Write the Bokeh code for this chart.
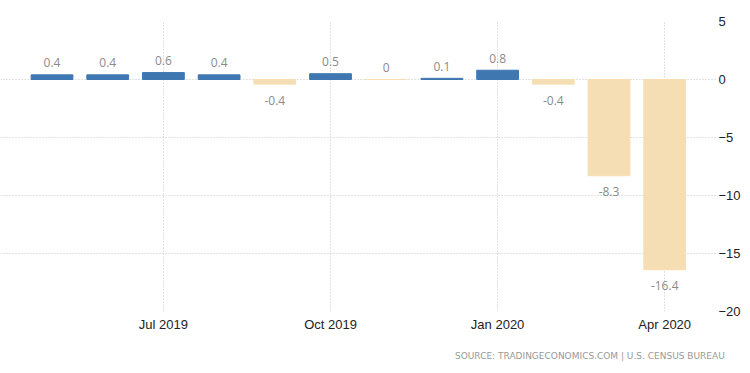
from bokeh.plotting import figure
from bokeh.models import ColumnDataSource, FixedTicker, LinearAxis, Title, Range1d
from bokeh.core.properties import value
from bokeh.embed import file_html
from bokeh.resources import INLINE

months = ["May 2019", "Jun 2019", "Jul 2019", "Aug 2019", "Sep 2019", "Oct 2019",
          "Nov 2019", "Dec 2019", "Jan 2020", "Feb 2020", "Mar 2020", "Apr 2020"]
values = [0.4, 0.4, 0.6, 0.4, -0.4, 0.5, 0, 0.1, 0.8, -0.4, -8.3, -16.4]
tick_months = ["Jul 2019", "Oct 2019", "Jan 2020", "Apr 2020"]
y_ticks = [5, 0, -5, -10, -15, -20]

BLUE = "#3f78b0"
WHEAT = "#f5deb3"

idx = list(range(len(months)))
colors = [BLUE if v > 0 else WHEAT for v in values]
labels = [("%g" % v) for v in values]
pos = [v >= 0 for v in values]

src_pos = ColumnDataSource(dict(x=[i for i, p in zip(idx, pos) if p],
                                y=[v for v, p in zip(values, pos) if p],
                                t=[l for l, p in zip(labels, pos) if p]))
src_neg = ColumnDataSource(dict(x=[i for i, p in zip(idx, pos) if not p],
                                y=[v for v, p in zip(values, pos) if not p],
                                t=[l for l, p in zip(labels, pos) if not p]))
src = ColumnDataSource(dict(x=idx, top=values, color=colors))

p = figure(frame_width=716, frame_height=290, output_backend="svg", toolbar_location=None,
           x_range=Range1d(-0.925, 11.93), y_range=Range1d(-20, 5),
           min_border_left=0, min_border_top=21, min_border_right=0, min_border_bottom=0,
           y_axis_location=None)
p.outline_line_color = None
p.background_fill_color = "white"
p.border_fill_color = "white"

p.vbar(x="x", top="top", bottom=0, width=0.75, color="color", source=src)

font = value("Open Sans")
p.text(x="x", y="y", text="t", source=src_pos, text_align="center", text_baseline="middle",
       y_offset=-12, text_color="#8a8a8a", text_font_size="12px", text_font=font)
p.text(x="x", y="y", text="t", source=src_neg, text_align="center", text_baseline="middle",
       y_offset=16, text_color="#8a8a8a", text_font_size="12px", text_font=font)

# x axis
xa = p.xaxis[0]
xa.ticker = FixedTicker(ticks=[months.index(m) for m in tick_months])
xa.major_label_overrides = {months.index(m): m for m in tick_months}
xa.axis_line_color = None
xa.major_tick_line_color = None
xa.minor_tick_line_color = None
xa.major_tick_out = 0
xa.major_tick_in = 0
xa.minor_tick_out = 0
xa.major_label_standoff = 5
xa.major_label_text_font = "Liberation Sans"
xa.major_label_text_font_size = "13px"
xa.major_label_text_color = "#222222"

# right y axis
ya = LinearAxis(ticker=FixedTicker(ticks=y_ticks))
ya.axis_line_color = None
ya.major_tick_line_color = None
ya.minor_tick_line_color = None
ya.major_tick_out = 0
ya.major_tick_in = 0
ya.minor_tick_out = 0
ya.major_label_standoff = 2
ya.major_label_text_font = "Liberation Sans"
ya.major_label_text_font_size = "13px"
ya.major_label_text_color = "#222222"
p.add_layout(ya, "right")

p.xgrid.ticker = xa.ticker
p.ygrid.ticker = ya.ticker
for g in (p.xgrid, p.ygrid):
    g.grid_line_color = "#c4c4c4"
    g.grid_line_dash = "1 2"
    g.grid_line_width = 1

p.add_layout(Title(text="SOURCE: TRADINGECONOMICS.COM  |  U.S. CENSUS BUREAU", align="right",
                   text_font_size="9px", text_font="DejaVu Sans", text_color="#999999",
                   text_font_style="normal", standoff=29, offset=-14), "below")

open("out.html", "w").write(file_html(p, INLINE))
